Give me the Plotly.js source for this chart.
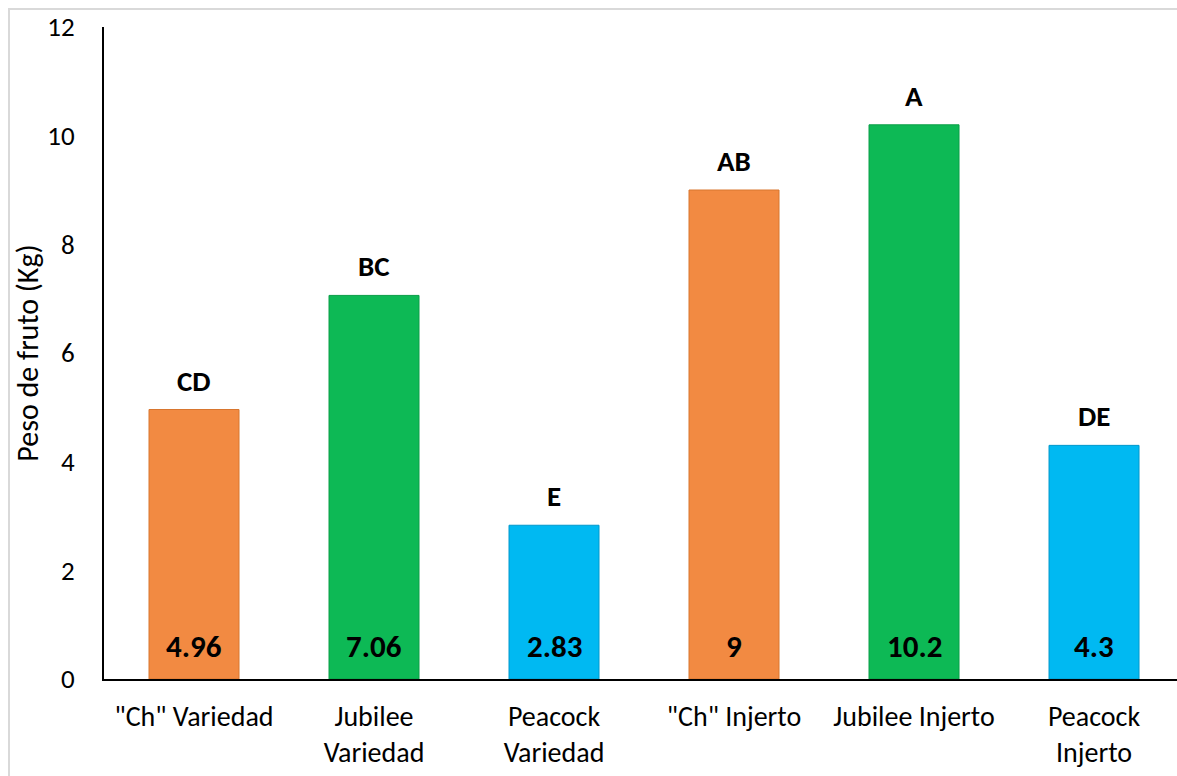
<!DOCTYPE html>
<html>
<head>
<meta charset="utf-8">
<script src="https://cdn.plot.ly/plotly-3.0.1.min.js"></script>
<style>
  html, body { margin: 0; padding: 0; background: #ffffff; overflow: hidden; }
  #frame { position: absolute; left: 8px; top: 8px; width: 1300px; height: 900px;
           border-left: 2px solid #d9d9d9; border-top: 2px solid #d9d9d9; pointer-events: none; }
  #chart { position: absolute; left: 0; top: 0; width: 1177px; height: 776px; }
</style>
</head>
<body>
<div id="chart"></div>
<div id="frame"></div>
<script>
const categories = ['"Ch" Variedad', 'Jubilee<br>Variedad', 'Peacock<br>Variedad', '"Ch" Injerto', 'Jubilee Injerto', 'Peacock<br>Injerto'];
const values = [4.96, 7.06, 2.83, 9, 10.2, 4.3];
const valueLabels = ['4.96', '7.06', '2.83', '9', '10.2', '4.3'];
const letters = ['CD', 'BC', 'E', 'AB', 'A', 'DE'];
const barColors = ['#F28A42', '#0DB955', '#00B9F2', '#F28A42', '#0DB955', '#00B9F2'];
const lineColors = ['#D8762F', '#0A9E48', '#0098CC', '#D8762F', '#0A9E48', '#0098CC'];
const yTicks = [0, 2, 4, 6, 8, 10, 12];

const font = 'Carlito, Calibri, Lato, sans-serif';

const trace = {
  type: 'bar',
  x: categories,
  y: values,
  marker: { color: barColors, line: { color: lineColors, width: 1 } },
  width: 0.5,
  hoverinfo: 'x+y'
};

const annotations = [];
categories.forEach((c, i) => {
  annotations.push({
    x: c, y: values[i], xref: 'x', yref: 'y', text: '<b>' + letters[i] + '</b>',
    showarrow: false, yanchor: 'bottom', yshift: 9,
    font: { family: font, size: 29, color: '#000000' }
  });
  annotations.push({
    x: c, y: 0, xref: 'x', yref: 'y', text: '<b>' + valueLabels[i] + '</b>',
    showarrow: false, yanchor: 'bottom', yshift: 12,
    font: { family: font, size: 31, color: '#000000' }
  });
});

const layout = {
  width: 1177, height: 776,
  margin: { l: 104, r: 0, t: 27, b: 97 },
  paper_bgcolor: 'rgba(0,0,0,0)',
  plot_bgcolor: 'rgba(0,0,0,0)',
  showlegend: false,
  font: { family: font, size: 28, color: '#000000' },
  xaxis: {
    type: 'category',
    range: [-0.5, 5.461],
    showline: true, linecolor: '#000000', linewidth: 2,
    showgrid: false, zeroline: false, ticks: '',
    ticklabelstandoff: 11,
    tickfont: { family: font, size: 28, color: '#000000' }
  },
  yaxis: {
    range: [0, 12],
    tickvals: yTicks,
    ticktext: yTicks.map(String),
    showline: true, linecolor: '#000000', linewidth: 2,
    showgrid: false, zeroline: false, ticks: '',
    ticklabelstandoff: 22,
    tickfont: { family: font, size: 27, color: '#000000' },
    title: { text: 'Peso de fruto (Kg)', font: { family: font, size: 30, color: '#000000' }, standoff: 0 }
  },
  annotations: annotations
};

Plotly.newPlot('chart', [trace], layout, { displayModeBar: false, staticPlot: true });
</script>
</body>
</html>
